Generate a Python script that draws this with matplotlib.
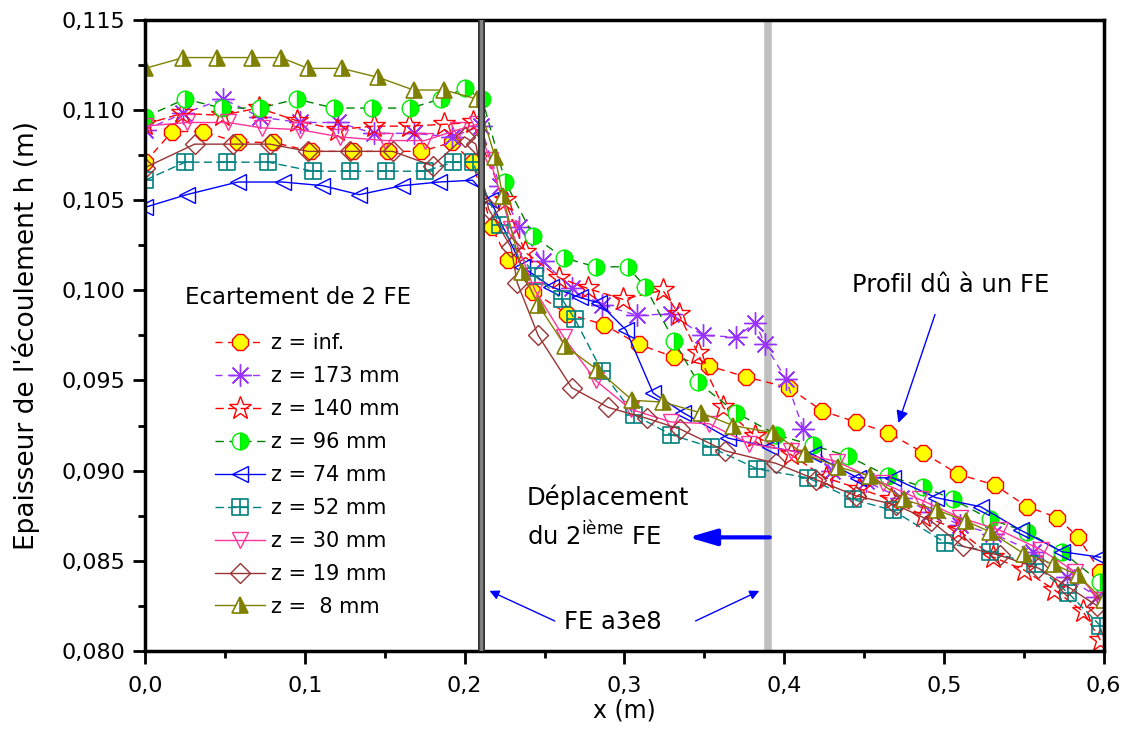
import matplotlib
matplotlib.use("Agg")
import matplotlib.pyplot as plt
from matplotlib.path import Path
from matplotlib.ticker import MultipleLocator, FuncFormatter

plt.rcParams['font.family'] = ['DejaVu Sans']

# Ecartement de 2 FE : profils h(x) pour differentes valeurs de z
x_inf = [0.0, 0.017, 0.036, 0.058, 0.080, 0.104, 0.130, 0.152, 0.173, 0.192, 0.205,
         0.217, 0.227, 0.243, 0.264, 0.287, 0.309, 0.331, 0.353, 0.376, 0.403, 0.424,
         0.445, 0.465, 0.487, 0.509, 0.532, 0.552, 0.571, 0.584, 0.598]
h_inf = [0.1071, 0.1088, 0.1088, 0.1082, 0.1082, 0.1077, 0.1077, 0.1077, 0.1077, 0.1082, 0.1071,
         0.1035, 0.1017, 0.0999, 0.0987, 0.0981, 0.0970, 0.0963, 0.0958, 0.0952, 0.0946, 0.0933,
         0.0927, 0.0921, 0.0910, 0.0898, 0.0892, 0.0880, 0.0874, 0.0863, 0.0844]

x_173 = [0.0, 0.024, 0.049, 0.072, 0.097, 0.121, 0.143, 0.168, 0.192, 0.210,
         0.222, 0.234, 0.249, 0.267, 0.286, 0.308, 0.329, 0.349, 0.370, 0.382, 0.388, 0.401,
         0.412, 0.430, 0.451, 0.473, 0.492, 0.510, 0.531, 0.556, 0.577, 0.596]
h_173 = [0.1089, 0.1098, 0.1106, 0.1096, 0.1093, 0.1093, 0.1087, 0.1087, 0.1085, 0.1091,
         0.1058, 0.1035, 0.1016, 0.1001, 0.0992, 0.0986, 0.0987, 0.0975, 0.0974, 0.0982, 0.0970, 0.0951,
         0.0923, 0.0900, 0.0894, 0.0885, 0.0877, 0.0870, 0.0865, 0.0855, 0.0841, 0.0830]

x_140 = [0.0, 0.023, 0.048, 0.071, 0.095, 0.120, 0.143, 0.165, 0.187, 0.205,
         0.225, 0.238, 0.259, 0.277, 0.299, 0.324, 0.334, 0.346, 0.362, 0.382, 0.404,
         0.426, 0.447, 0.467, 0.487, 0.509, 0.531, 0.550, 0.569, 0.587, 0.598]
h_140 = [0.1092, 0.1098, 0.1097, 0.1101, 0.1094, 0.1089, 0.1091, 0.1091, 0.1092, 0.1093,
         0.1050, 0.1021, 0.1007, 0.1001, 0.0995, 0.1000, 0.0987, 0.0965, 0.0935, 0.0919, 0.0909,
         0.0896, 0.0890, 0.0884, 0.0875, 0.0867, 0.0852, 0.0845, 0.0834, 0.0822, 0.0806]

x_96 = [0.0, 0.025, 0.048, 0.072, 0.095, 0.118, 0.142, 0.166, 0.185, 0.200, 0.211,
        0.2255, 0.243, 0.262, 0.282, 0.302, 0.313, 0.331, 0.346, 0.370, 0.395, 0.418,
        0.440, 0.465, 0.487, 0.506, 0.529, 0.552, 0.574, 0.598]
h_96 = [0.1096, 0.1106, 0.1101, 0.1101, 0.1106, 0.1101, 0.1101, 0.1101, 0.1106, 0.1112, 0.1106,
        0.1060, 0.1030, 0.1018, 0.1013, 0.1013, 0.1002, 0.0972, 0.0949, 0.0932, 0.0920, 0.0914,
        0.0908, 0.0897, 0.0891, 0.0884, 0.0873, 0.0866, 0.0855, 0.0838]

x_74 = [0.0, 0.026, 0.058, 0.086, 0.111, 0.134, 0.161, 0.184, 0.205,
        0.216, 0.236, 0.254, 0.272, 0.284, 0.301, 0.318, 0.337, 0.365, 0.391, 0.418,
        0.446, 0.468, 0.495, 0.523, 0.548, 0.574, 0.598]
h_74 = [0.1046, 0.1053, 0.1060, 0.1060, 0.1058, 0.1053, 0.1058, 0.1060, 0.1061,
        0.1050, 0.1013, 0.1002, 0.0996, 0.0993, 0.0978, 0.0943, 0.0932, 0.0918, 0.0913, 0.0909,
        0.0896, 0.0896, 0.0885, 0.0880, 0.0867, 0.0855, 0.0852]

x_52 = [0.0, 0.025, 0.051, 0.077, 0.105, 0.128, 0.151, 0.175, 0.193, 0.205,
        0.222, 0.244, 0.261, 0.269, 0.286, 0.306, 0.329, 0.354, 0.383, 0.415,
        0.443, 0.468, 0.501, 0.529, 0.557, 0.578, 0.598]
h_52 = [0.1061, 0.1071, 0.1071, 0.1071, 0.1066, 0.1066, 0.1066, 0.1066, 0.1071, 0.1071,
        0.1036, 0.1008, 0.0995, 0.0984, 0.0955, 0.0931, 0.0920, 0.0913, 0.0901, 0.0896,
        0.0884, 0.0878, 0.0860, 0.0855, 0.0848, 0.0832, 0.0814]

x_30 = [0.0, 0.026, 0.052, 0.073, 0.097, 0.122, 0.150, 0.175, 0.196, 0.208,
        0.216, 0.229, 0.244, 0.262, 0.282, 0.304, 0.329, 0.353, 0.378, 0.404,
        0.433, 0.462, 0.485, 0.510, 0.535, 0.561, 0.582, 0.598]
h_30 = [0.1091, 0.1093, 0.1093, 0.1090, 0.1089, 0.1085, 0.1083, 0.1083, 0.1089, 0.1092,
        0.1072, 0.1034, 0.1000, 0.0974, 0.0950, 0.0934, 0.0927, 0.0926, 0.0915, 0.0911,
        0.0905, 0.0893, 0.0884, 0.0874, 0.0867, 0.0856, 0.0844, 0.0828]

x_19 = [0.0, 0.031, 0.055, 0.078, 0.102, 0.128, 0.155, 0.180, 0.200, 0.207,
        0.215, 0.229, 0.233, 0.246, 0.267, 0.290, 0.314, 0.335, 0.363, 0.395,
        0.420, 0.445, 0.470, 0.492, 0.512, 0.535, 0.559, 0.577, 0.596]
h_19 = [0.1068, 0.1081, 0.1081, 0.1081, 0.1077, 0.1077, 0.1077, 0.1069, 0.1085, 0.1081,
        0.1045, 0.1024, 0.1004, 0.0975, 0.0946, 0.0935, 0.0929, 0.0923, 0.0911, 0.0904,
        0.0895, 0.0886, 0.0881, 0.0872, 0.0858, 0.0853, 0.0846, 0.0836, 0.0825]

x_8 = [0.0, 0.024, 0.045, 0.067, 0.085, 0.102, 0.123, 0.146, 0.168, 0.187, 0.208,
       0.219, 0.224, 0.236, 0.246, 0.263, 0.283, 0.305, 0.324, 0.348, 0.368, 0.393,
       0.413, 0.434, 0.454, 0.475, 0.496, 0.514, 0.529, 0.550, 0.569, 0.584, 0.600]
h_8 = [0.1123, 0.1129, 0.1129, 0.1129, 0.1129, 0.1123, 0.1123, 0.1118, 0.1111, 0.1111, 0.1106,
       0.1074, 0.1052, 0.1010, 0.0992, 0.0969, 0.0956, 0.0939, 0.0938, 0.0932, 0.0925, 0.0921,
       0.0909, 0.0902, 0.0897, 0.0884, 0.0878, 0.0872, 0.0866, 0.0854, 0.0848, 0.0842, 0.0828]

labels = ['z = inf.', 'z = 173 mm', 'z = 140 mm', 'z = 96 mm', 'z = 74 mm',
          'z = 52 mm', 'z = 30 mm', 'z = 19 mm', 'z =  8 mm']

# marqueur carre avec croix (style Origin)
carre_croix = Path([(-1, -1), (1, -1), (1, 1), (-1, 1), (-1, -1), (0, -1), (0, 1), (-1, 0), (1, 0)],
                   [Path.MOVETO, Path.LINETO, Path.LINETO, Path.LINETO, Path.CLOSEPOLY,
                    Path.MOVETO, Path.LINETO, Path.MOVETO, Path.LINETO])

fig = plt.figure(figsize=(11.25, 7.29), dpi=100)
ax = fig.add_axes([0.129, 0.107, 0.852, 0.866])

lw = 1.0
ax.plot(x_inf, h_inf, color='red', ls=(0, (5, 4)), lw=lw, marker='8', ms=12,
        mfc='yellow', mec='red', mew=1, label=labels[0])
ax.plot(x_173, h_173, color='#9933ff', ls=(0, (5, 4)), lw=lw, marker=(8, 2, 0), ms=16,
        mec='#9933ff', mew=1, label=labels[1])
ax.plot(x_140, h_140, color='red', ls=(0, (6, 3)), lw=lw, marker='*', ms=17,
        mfc='none', mec='red', mew=1, label=labels[2])
ax.plot(x_96, h_96, color='#008000', ls=(0, (6, 4)), lw=lw, marker='o', ms=12,
        fillstyle='right', mfc='#00ff00', mfcalt='white', mec='#00ee00', mew=1, label=labels[3])
ax.plot(x_74, h_74, color='blue', ls='-', lw=lw, marker='<', ms=12,
        mfc='none', mec='blue', mew=1, label=labels[4])
ax.plot(x_52, h_52, color='#008080', ls=(0, (6, 3)), lw=lw, marker=carre_croix, ms=11,
        mfc='none', mec='#008080', mew=1.2, label=labels[5])
ax.plot(x_30, h_30, color='#ff3399', ls='-', lw=lw, marker='v', ms=12,
        mfc='none', mec='#ff3399', mew=1, label=labels[6])
ax.plot(x_19, h_19, color='#993333', ls='-', lw=lw, marker='D', ms=10,
        mfc='none', mec='#993333', mew=1, label=labels[7])
ax.plot(x_8, h_8, color='#808000', ls='-', lw=lw, marker='^', ms=12,
        fillstyle='right', mfc='#808000', mfcalt='white', mec='#808000', mew=1.2, label=labels[8])

# positions des deux FE
ax.axvline(0.21, color='#303030', lw=5, zorder=5)
ax.axvline(0.21, color='#808080', lw=2.5, zorder=5)
ax.axvline(0.39, color='#c0c0c0', lw=5.5, zorder=1)

ax.set_xlim(0, 0.6)
ax.set_ylim(0.080, 0.115)
ax.xaxis.set_major_locator(MultipleLocator(0.1))
ax.xaxis.set_minor_locator(MultipleLocator(0.05))
ax.yaxis.set_major_locator(MultipleLocator(0.005))
ax.yaxis.set_minor_locator(MultipleLocator(0.0025))
ax.xaxis.set_major_formatter(FuncFormatter(lambda v, p: ('%.1f' % v).replace('.', ',')))
ax.yaxis.set_major_formatter(FuncFormatter(lambda v, p: ('%.3f' % v).replace('.', ',')))
ax.tick_params(which='major', direction='out', length=9, width=2, labelsize=16)
ax.tick_params(which='minor', direction='out', length=5, width=2)
ax.tick_params(axis='x', which='major', pad=9)
ax.tick_params(axis='y', which='major', pad=5)
for s in ax.spines.values():
    s.set_linewidth(2.5)

ax.set_xlabel('x (m)', fontsize=17, labelpad=2)
ax.set_ylabel("Epaisseur de l'écoulement h (m)", fontsize=19, labelpad=16)

leg = ax.legend(loc='upper left', bbox_to_anchor=(0.073, 0.503), frameon=False, fontsize=15,
                handlelength=2.4, handletextpad=0.3, labelspacing=0.62, borderpad=0, borderaxespad=0)

ax.text(0.025, 0.0996, 'Ecartement de 2 FE', fontsize=16.5, va='center', ha='left')

ax.text(0.504, 0.1003, 'Profil dû à un FE', fontsize=17.5, va='center', ha='center')
ax.annotate('', xy=(0.471, 0.0925), xytext=(0.495, 0.0988),
            arrowprops=dict(arrowstyle='-|>', color='blue', lw=1, mutation_scale=18))

ax.text(0.239, 0.0885, 'Déplacement', fontsize=17.5, va='center', ha='left')
ax.text(0.239, 0.0864, r'du 2$^{\mathrm{ième}}$ FE', fontsize=17.5, va='center', ha='left')
ax.annotate('', xy=(0.340, 0.0863), xytext=(0.391, 0.0863),
            arrowprops=dict(arrowstyle='-|>,head_width=0.35,head_length=1.2', color='blue', lw=3,
                            mutation_scale=14, shrinkA=0, shrinkB=0))

ax.text(0.293, 0.0816, 'FE a3e8', fontsize=17.5, va='center', ha='center')
ax.annotate('', xy=(0.214, 0.0834), xytext=(0.258, 0.0816),
            arrowprops=dict(arrowstyle='-|>', color='blue', lw=1, mutation_scale=14))
ax.annotate('', xy=(0.386, 0.0834), xytext=(0.343, 0.0816),
            arrowprops=dict(arrowstyle='-|>', color='blue', lw=1, mutation_scale=14))

fig.savefig('out.png', dpi=100)
